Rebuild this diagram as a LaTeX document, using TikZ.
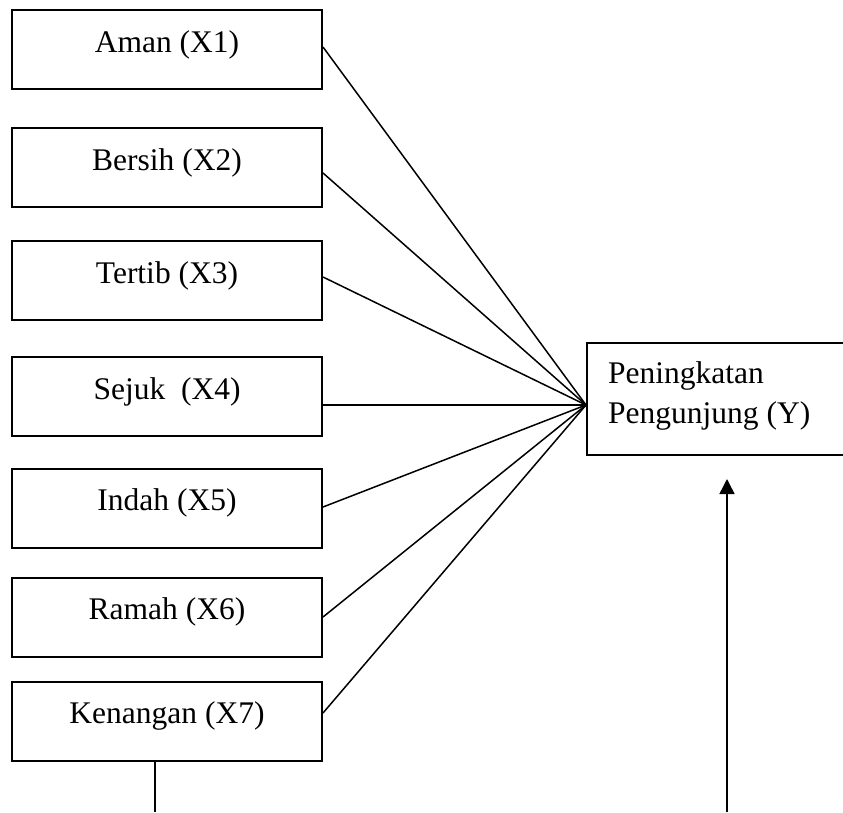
\documentclass[tikz,border=0pt]{standalone}
\usepackage{fontspec}
\setmainfont{Liberation Serif}
\usetikzlibrary{arrows.meta,calc}
\begin{document}
\begin{tikzpicture}[x=1pt,y=-1pt,
  box/.style={draw=black, line width=2pt, rectangle, minimum width=310pt, minimum height=79pt, inner sep=0pt},
  txt/.style={inner sep=0pt, font=\fontsize{31.5}{40}\selectfont, anchor=base},
  conn/.style={draw=black, line width=1.5pt},
  arr/.style={conn, -{Triangle[length=15pt,width=15pt]}}]
\useasboundingbox (0,0) rectangle (843,812);
\clip (0,0) rectangle (843,812);
\fill[white] (0,0) rectangle (843,812);
% left boxes
\node[box] (b1) at (167,49.5) {};
\node[box] (b2) at (167,167.5) {};
\node[box] (b3) at (167,280.5) {};
\node[box] (b4) at (167,396.5) {};
\node[box] (b5) at (167,508) {};
\node[box] (b6) at (167,617) {};
\node[box] (b7) at (167,721) {};
\node[txt] (t1) at (167,52) {Aman (X1)};
\node[txt] (t2) at (167,170) {Bersih (X2)};
\node[txt] (t3) at (167,283) {Tertib (X3)};
\node[txt] (t4) at (167,399) {Sejuk\ \ (X4)};
\node[txt] (t5) at (167,510) {Indah (X5)};
\node[txt] (t6) at (167,619) {Ramah (X6)};
\node[txt] (t7) at (167,723) {Kenangan (X7)};
% Y box
\node[draw=black, line width=2pt, rectangle, minimum width=263pt, minimum height=112pt, inner sep=0pt] (y) at (718.5,399) {};
\node[txt, anchor=base west, align=left] (ty) at (608,423) {Peningkatan\\Pengunjung (Y)};
\coordinate (c) at (586,405);
% connectors
\draw[conn] ($(b1.east)+(0,-2.5)$) -- (c);
\draw[conn] ($(b2.east)+(0,5.5)$) -- (c);
\draw[conn] ($(b3.east)+(0,-3.5)$) -- (c);
\draw[conn] (b4.east |- c) -- (c);
\draw[conn] ($(b5.east)+(0,-1)$) -- (c);
\draw[conn] (b6.east) -- (c);
\draw[conn] ($(b7.east)+(0,-8)$) -- (c);
\coordinate (d1) at (155,812);
\coordinate (d2) at (727,812);
\draw[conn] (b7.south -| d1) -- (d1);
\draw[arr] (d2) -- (727,479);
\end{tikzpicture}
\end{document}
